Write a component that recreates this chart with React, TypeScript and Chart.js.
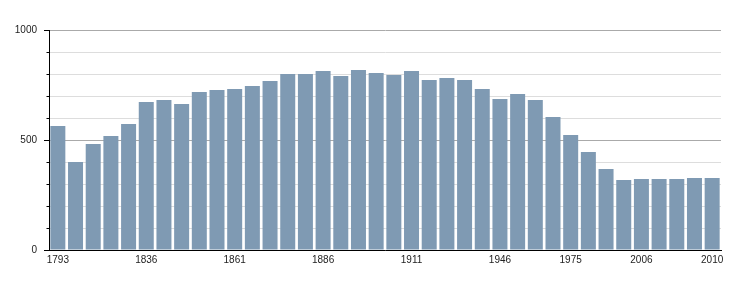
import React, { useEffect, useRef } from "react";
import { Chart, registerables } from "chart.js";

Chart.register(...registerables);

const years = [
  "1793", "1800", "1806", "1821", "1831", "1836", "1841", "1846", "1851", "1856",
  "1861", "1866", "1872", "1876", "1881", "1886", "1891", "1896", "1901", "1906",
  "1911", "1921", "1926", "1931", "1936", "1946", "1954", "1962", "1968", "1975",
  "1982", "1990", "1999", "2006", "2007", "2008", "2009", "2010",
];

const population = [
  564, 400, 482, 518, 573, 673, 682, 664, 718, 727,
  732, 745, 768, 800, 800, 814, 791, 818, 805, 795,
  814, 773, 782, 773, 732, 686, 709, 682, 605, 523,
  445, 368, 318, 323, 323, 323, 327, 327,
];

const shownYears = ["1793", "1836", "1861", "1886", "1911", "1946", "1975", "2006", "2010"];

const yMin = 0;
const yMax = 1000;
const yStep = 100;
const yMajorStep = 500;

const minorTicksPlugin = {
  id: "minorTicks",
  afterDraw(chart: any) {
    const y = chart.scales.y;
    const ctx = chart.ctx;
    const left = chart.chartArea.left;
    ctx.save();
    ctx.strokeStyle = "#000";
    ctx.lineWidth = 1;
    for (let v = yMin; v <= yMax; v += yStep) {
      if (v % yMajorStep === 0) continue;
      const py = Math.round(y.getPixelForValue(v)) + 0.5;
      ctx.beginPath();
      ctx.moveTo(left - 2.5, py);
      ctx.lineTo(left, py);
      ctx.stroke();
    }
    ctx.restore();
  },
};

export default function App() {
  const ref = useRef<HTMLCanvasElement | null>(null);

  useEffect(() => {
    if (!ref.current) return;
    const font = { family: "'Liberation Sans', Arial, sans-serif", size: 10 };
    const chart = new Chart(ref.current, {
      type: "bar",
      data: {
        labels: years,
        datasets: [
          {
            data: population,
            backgroundColor: "#7f9ab3",
            borderWidth: 0,
            categoryPercentage: 1,
            barPercentage: 0.848,
          },
        ],
      },
      options: {
        responsive: false,
        animation: false,
        layout: { padding: { top: 30, right: 29, left: 0, bottom: 0 } },
        plugins: { legend: { display: false }, tooltip: { enabled: false } },
        scales: {
          x: {
            grid: { display: false, drawTicks: false },
            border: { display: true, color: "#000", width: 1 },
            ticks: {
              autoSkip: false,
              maxRotation: 0,
              minRotation: 0,
              padding: 4,
              color: "#222",
              font,
              callback: (_v: any, i: number) => (shownYears.includes(years[i]) ? years[i] : ""),
            },
            afterFit: (s: any) => {
              s.height = 50;
            },
          },
          y: {
            min: yMin,
            max: yMax,
            grid: {
              color: (c: any) => (c.tick && c.tick.value % yMajorStep === 0 ? "#aaaaaa" : "#dddddd"),
              tickColor: (c: any) => (c.tick && c.tick.value % yMajorStep === 0 ? "#000" : "rgba(0,0,0,0)"),
              tickLength: 5,
              drawTicks: true,
            },
            border: { display: true, color: "#000", width: 1 },
            ticks: {
              stepSize: yStep,
              autoSkip: false,
              padding: 7,
              color: "#222",
              font,
              callback: (v: any) => (Number(v) % yMajorStep === 0 ? String(v) : ""),
            },
            afterFit: (s: any) => {
              s.width = 49;
            },
          },
        },
      },
      plugins: [minorTicksPlugin],
    });
    return () => chart.destroy();
  }, []);

  return (
    <div style={{ position: "absolute", left: 0, top: 0, width: 750, height: 300, background: "#fff" }}>
      <canvas ref={ref} width={750} height={300} />
    </div>
  );
}
